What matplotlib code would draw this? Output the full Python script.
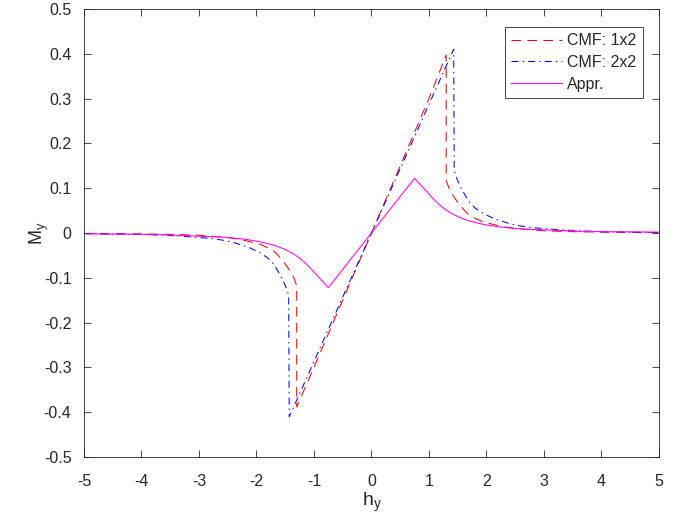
import matplotlib
matplotlib.use("Agg")
import matplotlib.pyplot as plt

plt.rcParams['font.family'] = ['Liberation Sans', 'DejaVu Sans']
plt.rcParams['lines.scale_dashes'] = False

# CMF: 1x2 cluster magnetisation
h_cmf12 = [-5.0, -4.5, -4.0, -3.5, -3.0, -2.8, -2.6, -2.45, -2.29, -2.09, -1.94,
           -1.80, -1.70, -1.62, -1.54, -1.47, -1.42, -1.38, -1.35, -1.32, -1.30,
           -1.30, -1.0, -0.5, 0.0, 0.5, 1.0, 1.30,
           1.30, 1.32, 1.35, 1.38, 1.42, 1.47, 1.54, 1.62, 1.70, 1.80, 1.94,
           2.09, 2.29, 2.45, 2.6, 2.8, 3.0, 3.5, 4.0, 4.5, 5.0]
m_cmf12 = [-0.001, -0.0015, -0.002, -0.003, -0.005, -0.007, -0.009, -0.011, -0.014,
           -0.020, -0.025, -0.033, -0.040, -0.050, -0.063, -0.074, -0.084, -0.092,
           -0.100, -0.110, -0.118,
           -0.388, -0.300, -0.150, 0.0, 0.150, 0.300, 0.397,
           0.118, 0.110, 0.100, 0.092, 0.084, 0.074, 0.063, 0.050, 0.040, 0.033,
           0.025, 0.020, 0.014, 0.011, 0.009, 0.007, 0.005, 0.003, 0.002, 0.0015,
           0.001]

# CMF: 2x2 cluster magnetisation
h_cmf22 = [-5.0, -4.5, -4.0, -3.6, -3.3, -3.0, -2.8, -2.58, -2.4, -2.23, -2.1,
           -1.94, -1.80, -1.71, -1.65, -1.59, -1.53, -1.49, -1.46, -1.44,
           -1.43, -1.0, -0.5, 0.0, 0.5, 1.0, 1.43,
           1.44, 1.46, 1.49, 1.53, 1.59, 1.65, 1.71, 1.80, 1.94, 2.1, 2.23,
           2.4, 2.58, 2.8, 3.0, 3.3, 3.6, 4.0, 4.5, 5.0]
m_cmf22 = [-0.001, -0.002, -0.003, -0.005, -0.007, -0.010, -0.012, -0.016, -0.021,
           -0.028, -0.034, -0.044, -0.056, -0.068, -0.080, -0.093, -0.108, -0.120,
           -0.130, -0.140,
           -0.410, -0.287, -0.143, 0.0, 0.143, 0.287, 0.410,
           0.140, 0.130, 0.120, 0.108, 0.093, 0.080, 0.068, 0.056, 0.044, 0.034,
           0.028, 0.021, 0.016, 0.012, 0.010, 0.007, 0.005, 0.003, 0.002, 0.001]

# Approximate solution
h_appr = [-5.0, -4.5, -4.0, -3.6, -3.2, -2.8, -2.5, -2.2, -2.0, -1.85, -1.7, -1.55,
          -1.45, -1.35, -1.25, -1.15, -1.05, -0.95, -0.85, -0.75,
          0.0,
          0.75, 0.85, 0.95, 1.05, 1.15, 1.25, 1.35, 1.45, 1.55, 1.7, 1.85, 2.0,
          2.2, 2.5, 2.8, 3.2, 3.6, 4.0, 4.5, 5.0]
m_appr = [-0.002, -0.0025, -0.003, -0.004, -0.006, -0.008, -0.010, -0.014, -0.018,
          -0.022, -0.027, -0.034, -0.040, -0.047, -0.056, -0.067, -0.080, -0.094,
          -0.108, -0.122,
          0.0,
          0.122, 0.108, 0.094, 0.080, 0.067, 0.056, 0.047, 0.040, 0.034, 0.027,
          0.022, 0.018, 0.014, 0.010, 0.008, 0.006, 0.004, 0.003, 0.0025, 0.002]

xticks = [-5, -4, -3, -2, -1, 0, 1, 2, 3, 4, 5]
yticks = [-0.5, -0.4, -0.3, -0.2, -0.1, 0, 0.1, 0.2, 0.3, 0.4, 0.5]
ytick_labels = ['-0.5', '-0.4', '-0.3', '-0.2', '-0.1', '0', '0.1', '0.2', '0.3', '0.4', '0.5']

fig = plt.figure(figsize=(6.9, 5.26), dpi=100)
ax = fig.add_axes([0.1217, 0.131, 0.8333, 0.852])

ax.plot(h_cmf12, m_cmf12, color=(1, 0, 0), lw=0.75, dashes=(7, 4.5), label='CMF: 1x2')
ax.plot(h_cmf22, m_cmf22, color=(0, 0, 1), lw=0.75, dashes=(5, 3, 1, 3), label='CMF: 2x2')
ax.plot(h_appr, m_appr, color=(1, 0, 1), lw=0.75, label='Appr.')

ax.set_xlim(-5, 5)
ax.set_ylim(-0.5, 0.5)
ax.set_xticks(xticks)
ax.set_xticklabels([str(t) for t in xticks])
ax.set_yticks(yticks)
ax.set_yticklabels(ytick_labels)

dark = (0.15, 0.15, 0.15)
for s in ax.spines.values():
    s.set_color(dark)
    s.set_linewidth(0.6)
ax.tick_params(direction='in', top=True, right=True, length=5, width=0.6,
               color=dark, labelcolor=dark, labelsize=11.5)
ax.tick_params(axis='x', pad=12.5)
ax.tick_params(axis='y', pad=9)

ax.set_xlabel('h$_\\mathregular{y}$', fontsize=14, color=dark)
ax.set_ylabel('M$_\\mathregular{y}$', fontsize=13, color=dark)
ax.xaxis.set_label_coords(0.5, -0.075)
ax.yaxis.set_label_coords(-0.057, 0.5)

leg = ax.legend(loc='upper right', bbox_to_anchor=(0.972, 0.960), fontsize=11.5,
                handlelength=3.2, handletextpad=0.3, labelspacing=0.42,
                borderpad=0.4, fancybox=False, framealpha=1, borderaxespad=0)
leg.get_frame().set_edgecolor(dark)
leg.get_frame().set_linewidth(0.6)
for t in leg.get_texts():
    t.set_color(dark)

fig.savefig('out.png', dpi=100)
